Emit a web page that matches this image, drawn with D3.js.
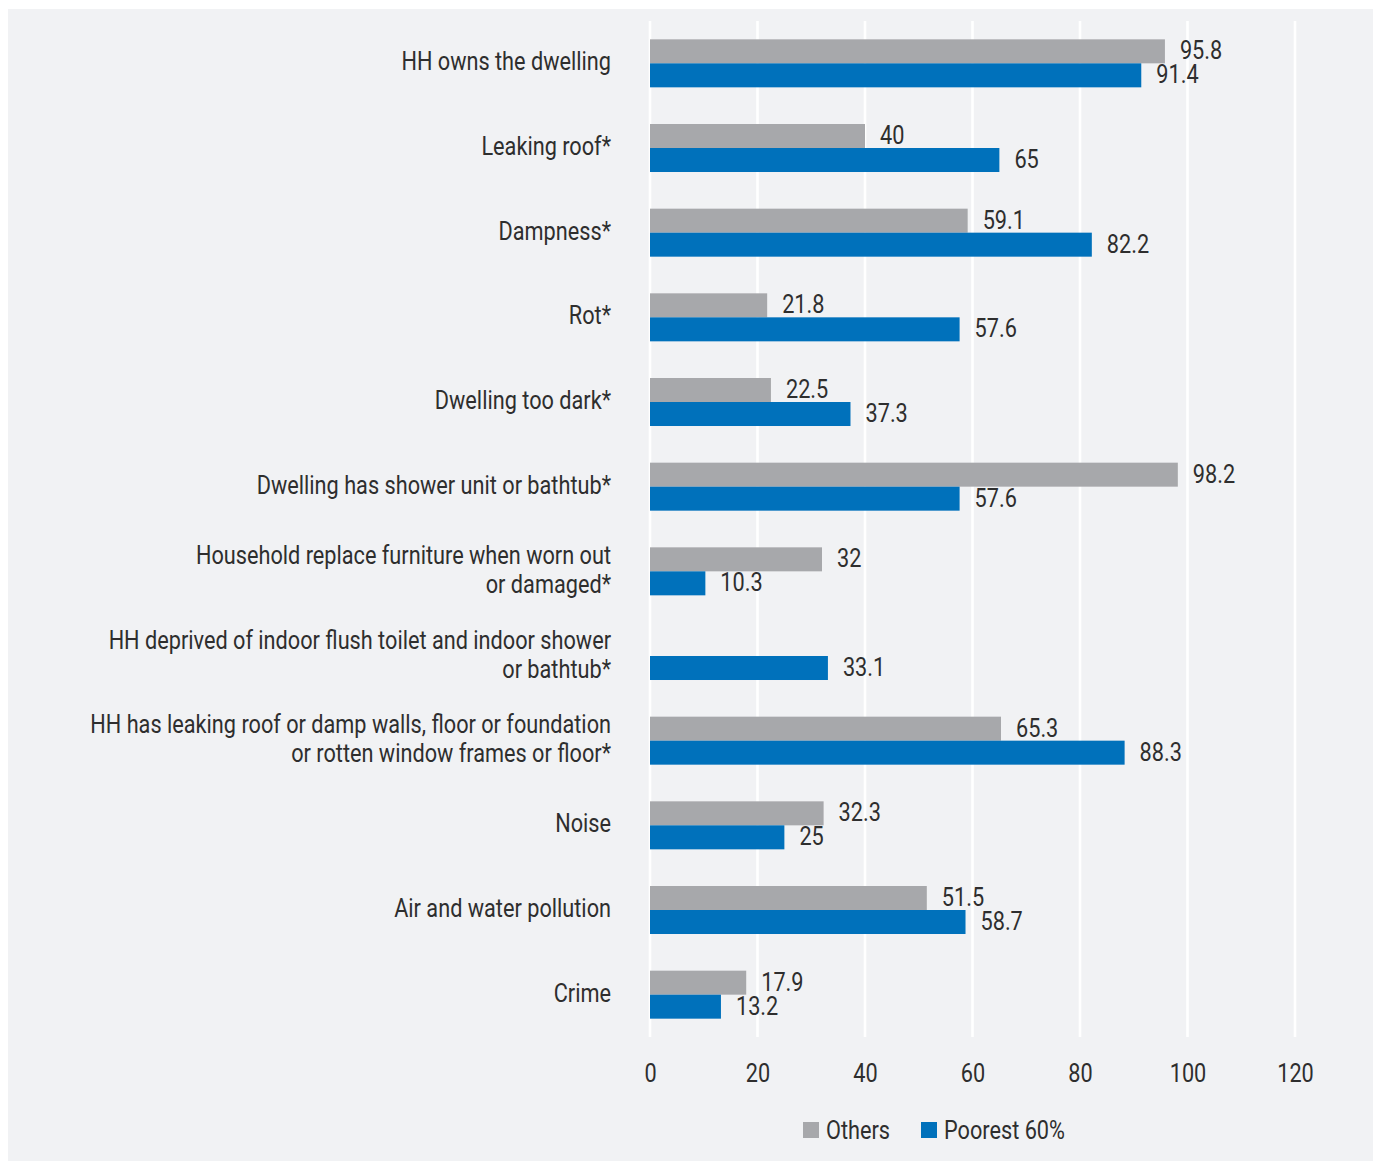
<!DOCTYPE html>
<html>
<head>
<meta charset="utf-8">
<script src="https://cdn.jsdelivr.net/npm/d3@7"></script>
<style>
  html, body { margin: 0; padding: 0; background: #ffffff; }
  svg { display: block; }
  text { font-family: Roboto, "Noto Sans", sans-serif; font-weight: 400; fill: #2e2e2e; font-size: 26px; }
</style>
</head>
<body>
<svg id="chart" width="1373" height="1161"></svg>
<script>
// Housing conditions by group, percent of households
const categories = [
  "HH owns the dwelling",
  "Leaking roof*",
  "Dampness*",
  "Rot*",
  "Dwelling too dark*",
  "Dwelling has shower unit or bathtub*",
  "Household replace furniture when worn out\nor damaged*",
  "HH deprived of indoor flush toilet and indoor shower\nor bathtub*",
  "HH has leaking roof or damp walls, floor or foundation\nor rotten window frames or floor*",
  "Noise",
  "Air and water pollution",
  "Crime"
];
const seriesNames = ["Others", "Poorest 60%"];
const othersValues  = [95.8, 40, 59.1, 21.8, 22.5, 98.2, 32, null, 65.3, 32.3, 51.5, 17.9];
const poorestValues = [91.4, 65, 82.2, 57.6, 37.3, 57.6, 10.3, 33.1, 88.3, 25, 58.7, 13.2];
const xTicks = [0, 20, 40, 60, 80, 100, 120];
const colors = ["#a7a8ab", "#0071bb"];

// horizontal squeeze giving the narrow typeface look
const SQ = 0.835;

const svg = d3.select("#chart");

// panel background
svg.append("rect")
  .attr("x", 8).attr("y", 9)
  .attr("width", 1365).attr("height", 1152)
  .attr("fill", "#f1f2f4");

const x = d3.scaleLinear().domain([0, 120]).range([650, 1295]);
const y = d3.scaleBand().domain(categories).range([21, 1037])
  .paddingInner(0.433).paddingOuter(0.2165);
const ySub = d3.scaleBand().domain(seriesNames).range([0, y.bandwidth()]);

// vertical gridlines
svg.append("g").selectAll("line")
  .data(xTicks).join("line")
  .attr("x1", d => x(d)).attr("x2", d => x(d))
  .attr("y1", 21).attr("y2", 1037)
  .attr("stroke", "#ffffff").attr("stroke-width", 2.6);

// x axis tick labels
const xAxis = d3.axisBottom(x).tickValues(xTicks).tickSize(0).tickPadding(0);
const gx = svg.append("g").attr("transform", "translate(0,1073)").call(xAxis);
gx.attr("font-family", null).attr("font-size", null);
gx.select(".domain").remove();
gx.selectAll("text")
  .attr("dy", "0.35em").attr("y", 0)
  .attr("transform", `scale(${SQ},1)`)
  .attr("fill", "#2e2e2e");

// rows of bars
const rows = categories.map((c, i) => ({
  cat: c,
  vals: [
    { s: seriesNames[0], v: othersValues[i], color: colors[0] },
    { s: seriesNames[1], v: poorestValues[i], color: colors[1] }
  ].filter(d => d.v !== null)
}));

const rowG = svg.append("g").selectAll("g")
  .data(rows).join("g")
  .attr("transform", d => `translate(0,${y(d.cat)})`);

rowG.selectAll("rect")
  .data(d => d.vals).join("rect")
  .attr("x", x(0))
  .attr("y", d => ySub(d.s))
  .attr("width", d => x(d.v) - x(0))
  .attr("height", ySub.bandwidth())
  .attr("fill", d => d.color);

rowG.selectAll("text.value")
  .data(d => d.vals).join("text")
  .attr("class", "value")
  .attr("transform", d => `translate(${x(d.v) + 15},${ySub(d.s) + ySub.bandwidth() / 2 - 1}) scale(${SQ},1)`)
  .attr("dy", "0.35em")
  .text(d => d.v);

// category labels
const lineH = 29;
svg.append("g").selectAll("text")
  .data(categories).join("text")
  .attr("text-anchor", "end")
  .attr("transform", d => `translate(611,${y(d) + y.bandwidth() / 2 - 2}) scale(${SQ},1)`)
  .each(function(d) {
    const lines = d.split("\n");
    const top = -(lines.length - 1) * lineH / 2;
    d3.select(this).selectAll("tspan")
      .data(lines).join("tspan")
      .attr("x", 0)
      .attr("y", (l, j) => top + j * lineH)
      .attr("dy", "0.35em")
      .text(l => l);
  });

// legend
const legend = svg.append("g").attr("transform", "translate(803,1130)");
const legendX = [0, 118];
seriesNames.forEach((s, i) => {
  const g = legend.append("g").attr("transform", `translate(${legendX[i]},0)`);
  g.append("rect").attr("x", 0).attr("y", -8).attr("width", 16).attr("height", 16).attr("fill", colors[i]);
  g.append("text").attr("transform", `translate(23,0) scale(${SQ},1)`).attr("dy", "0.35em").text(s);
});
</script>
</body>
</html>
